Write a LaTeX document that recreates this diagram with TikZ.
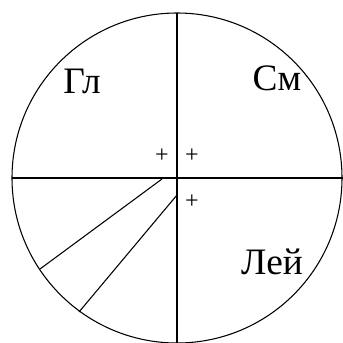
\documentclass[tikz,border=0pt]{standalone}
\usepackage{fontspec}
\setmainfont{Liberation Serif}
\usetikzlibrary{positioning}

\begin{document}
\begin{tikzpicture}[x=0.75pt, y=-0.75pt, line width=0.8pt,
		zone/.style={font=\fontsize{28}{30}\selectfont, anchor=base, inner sep=0pt},
		sign/.style={font=\fontsize{18}{20}\selectfont, inner sep=0pt}]
		\useasboundingbox (0,0) rectangle (343,343);
		
		% centre, circle and axes
		\coordinate (o) at (177,178);
		\draw (o) circle [radius=123.75pt];
		\coordinate (left) at (12,178);
		\coordinate (right) at (343,178);
		\coordinate (top) at (177,13);
		\coordinate (bottom) at (177,345);
		\draw (left) -- (right);
		\draw (top) -- (bottom);
		
		% quadrant labels
		\node[zone] (gl) at (82,93) {Гл};
		\node[zone] (sm) at (277,90) {См};
		\node[zone] (lei) at (272,274) {Лей};
		
		% signs near the centre
		\node[sign] (p1) at (162,156) {+};
		\node[sign] (p2) at (192,156) {+};
		\node[sign] (p3) at (192,202) {+};
		
		% two rays in the lower left
		\coordinate (a1) at (162,179);
		\coordinate (a2) at (40,269);
		\coordinate (b1) at (177,195);
		\coordinate (b2) at (79,312);
		\draw (a1) -- (a2);
		\draw (b1) -- (b2);
	\end{tikzpicture}
\end{document}
